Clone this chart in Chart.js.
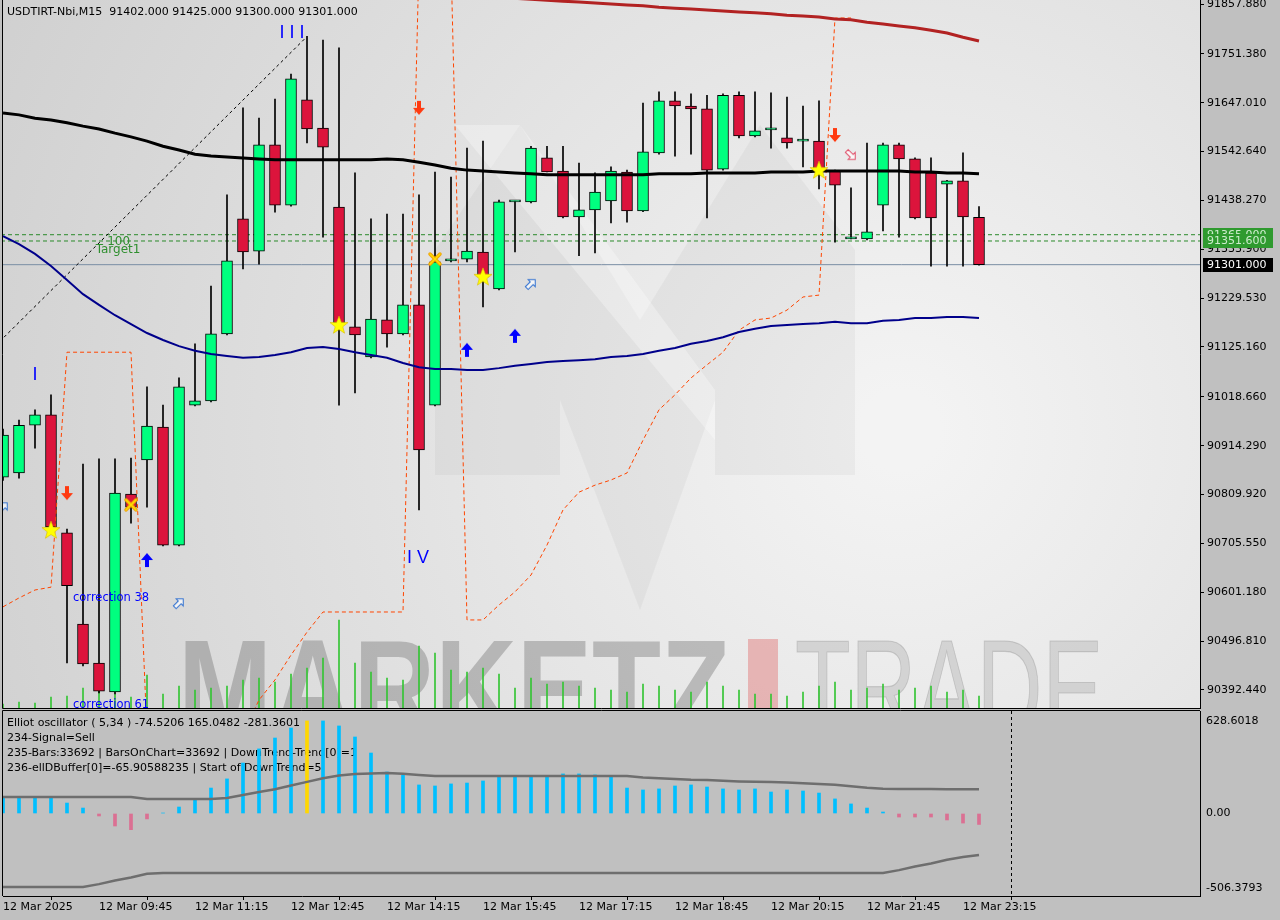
<!DOCTYPE html>
<html>
<head>
<meta charset="utf-8">
<script src="https://cdn.jsdelivr.net/npm/chart.js@4.4.1/dist/chart.umd.min.js"></script>
<style>
html, body { margin: 0; padding: 0; background: #c0c0c0; }
#wrap { position: relative; width: 1280px; height: 920px; overflow: hidden; }
#main { position: absolute; left: 0; top: 0; }
#osc { position: absolute; left: 0; top: 710px; }
</style>
</head>
<body>
<div id="wrap">
  <canvas id="main" width="1280" height="710"></canvas>
  <canvas id="osc" width="1280" height="210"></canvas>
</div>
<script>
// USDTIRT-Nbi M15, 12 Mar 2025
const times = ['08:15','08:30','08:45','09:00','09:15','09:30','09:45','10:00','10:15','10:30','10:45','11:00',
  '11:15','11:30','11:45','12:00','12:15','12:30','12:45','13:00','13:15','13:30','13:45','14:00',
  '14:15','14:30','14:45','15:00','15:15','15:30','15:45','16:00','16:15','16:30','16:45','17:00',
  '17:15','17:30','17:45','18:00','18:15','18:30','18:45','19:00','19:15','19:30','19:45','20:00',
  '20:15','20:30','20:45','21:00','21:15','21:30','21:45','22:00','22:15','22:30','22:45','23:00',
  '23:15','23:30'];

const open = [90847,90856,90958,90980,90728,90533,90450,90388,90811,90884,90954,90702,91001,91010,91153,91399,
  91330,91557,91428,91653,91593,91424,91168,91104,91183,91153,91215,91001,91309,91313,91328,91249,
  91435,91435,91529,91501,91403,91418,91437,91499,91416,91540,91651,91640,91634,91505,91663,91576,
  91589,91572,91565,91565,91501,91356,91356,91428,91557,91527,91497,91473,91480,91402];
const high = [90950,90969,90991,91023,90736,90875,90886,90886,90888,91040,91001,91059,91132,91255,91450,91636,
  91614,91655,91708,91789,91781,91764,91497,91399,91409,91409,91450,91499,91488,91550,91565,91439,
  91437,91554,91554,91554,91518,91497,91510,91503,91646,91670,91670,91666,91663,91666,91670,91670,
  91668,91659,91640,91651,91503,91465,91561,91561,91561,91529,91529,91481,91540,91425];
const low = [90840,90845,90909,90734,90450,90444,90386,90384,90749,90783,90700,90700,90999,91008,91151,91292,
  91302,91413,91426,91561,91360,91001,91027,91102,91125,91151,90777,90999,91307,91307,91211,91247,
  91328,91433,91499,91401,91320,91326,91390,91392,91414,91537,91533,91537,91401,91503,91572,91574,
  91550,91550,91510,91463,91349,91356,91354,91373,91360,91399,91298,91298,91298,91300];
const close = [90937,90958,90980,90741,90615,90448,90390,90813,90783,90956,90702,91040,91010,91153,91309,91328,
  91557,91428,91698,91591,91552,91176,91151,91185,91153,91215,90905,91307,91309,91330,91275,91435,
  91435,91550,91499,91403,91418,91456,91501,91416,91542,91651,91640,91634,91503,91663,91576,91587,
  91589,91561,91565,91501,91471,91356,91371,91557,91527,91401,91401,91480,91403,91301];
const volume = [4,6,5,11,12,20,26,14,11,33,14,22,18,20,22,28,30,26,34,40,50,88,45,36,30,28,62,55,38,36,40,34,
  20,30,24,26,22,20,18,16,24,22,18,16,26,22,18,14,14,12,16,22,26,18,20,24,18,20,22,16,18,12];

// moving averages
const maBlack = [91625,91621,91614,91610,91604,91597,91591,91582,91574,91565,91554,91546,91537,91533,91531,91529,
  91527,91525,91525,91525,91525,91525,91525,91525,91527,91525,91520,91514,91507,91503,91501,91499,
  91497,91495,91493,91493,91493,91493,91493,91493,91493,91495,91495,91495,91497,91497,91497,91497,
  91499,91499,91499,91501,91501,91501,91501,91501,91501,91499,91499,91497,91497,91495];
const maNavy = [91362,91345,91324,91298,91268,91238,91215,91193,91174,91155,91140,91127,91117,91110,91106,91102,
  91104,91108,91114,91123,91125,91121,91114,91108,91102,91091,91082,91078,91078,91076,91076,91080,
  91085,91089,91093,91095,91097,91099,91104,91106,91110,91117,91123,91132,91138,91146,91157,91164,
  91170,91172,91174,91176,91179,91176,91176,91181,91183,91187,91187,91189,91189,91187];
const maRed = [null,null,null,null,null,null,null,null,null,null,null,null,null,null,null,null,
  null,null,null,null,null,null,null,null,null,null,null,null,null,null,91875,91872,
  91870,91868,91866,91864,91862,91860,91858,91856,91854,91851,91849,91847,91845,91843,91841,91839,
  91837,91834,91832,91830,91826,91824,91819,91815,91811,91807,91802,91796,91787,91779];
const stopLine = [90570,90589,90606,90612,91114,91114,91114,91114,91114,90300,90300,90300,90300,90300,90300,90300,
  90371,90414,90467,90516,90559,90559,90559,90559,90559,90559,91950,91950,91950,90542,90542,90574,
  90602,90638,90702,90777,90815,90830,90841,90856,90926,90991,91023,91059,91087,91114,91161,91183,
  91187,91204,91232,91236,91828,91828,null,null,null,null,null,null,null,null];

// horizontal levels
const targetLevel = 91365.0;
const tpLevel = 91351.6;
const lastPrice = 91301.0;

// markers [bar, price]
const starMarks = [[3,90734],[21,91172],[30,91275],[51,91503]];
const crossMarks = [[8,90788],[27,91313]];
const sellArrows = [[4,90813],[26,91636],[52,91578]];
const buyArrows = [[9,90670],[29,91119],[32,91149]];
const buyHints = [[0,90783],[11,90578],[33,91260]];
const sellHints = [[53,91535]];
const waveLine = [[-1,91110],[18.9,91785]];
const notes = [
  {text:'I I I', bar:18.06, price:91796, color:'#0000ff', font:'18px "Liberation Sans"', align:'center'},
  {text:'I', bar:2, price:91065, color:'#0000ff', font:'18px "Liberation Sans"', align:'center'},
  {text:'I V', bar:25.94, price:90674, color:'#0000ff', font:'18px "Liberation Sans"', align:'center'},
  {text:'correction 38', bar:4.375, price:90589, color:'#0000ff', font:'11.5px "DejaVu Sans"', align:'left'},
  {text:'correction 61', bar:4.375, price:90360, color:'#0000ff', font:'11.5px "DejaVu Sans"', align:'left'},
  {text:'100', bar:7.94, price:91349, color:'#2f8f2f', font:'12px "DejaVu Sans"', align:'right'},
  {text:'Target1', bar:7.19, price:91332, color:'#2f8f2f', font:'12px "DejaVu Sans"', align:'center'}
];

const priceTicks = [91857.88,91751.38,91647.01,91542.64,91438.27,91333.90,91229.53,91125.16,91018.66,
  90914.29,90809.92,90705.55,90601.18,90496.81,90392.44];
const timeTicks = [0,6,12,18,24,30,36,42,48,54,60];

// Elliot oscillator
const oscHist = [112,112,112,112,71,37,-17,-85,-110,-37,3,44,99,173,235,343,439,513,581,629,629,595,520,411,
  282,262,194,187,201,207,221,248,255,255,248,269,269,262,248,173,160,167,187,194,180,167,160,167,
  146,160,153,139,99,65,37,10,-24,-24,-24,-44,-65,-74.5206];
const oscUpper = [112,112,112,112,112,112,112,112,112,99,99,99,99,99,105,125,146,165,190,215,240,258,268,272,
  275,270,262,255,255,255,255,255,255,255,255,255,255,255,255,255,245,240,235,230,228,222,218,215,
  214,210,205,200,195,185,175,168,167,166,166,165,165,165.0482];
const oscLower = [-500,-500,-500,-500,-500,-500,-480,-455,-435,-410,-405,-405,-405,-405,-405,-405,-405,-405,-405,-405,
  -405,-405,-405,-405,-405,-405,-405,-405,-405,-405,-405,-405,-405,-405,-405,-405,-405,-405,-405,-405,
  -405,-405,-405,-405,-405,-405,-405,-405,-405,-405,-405,-405,-405,-405,-405,-405,-385,-360,-340,-315,-295,-281.3601];
const signalBar = 19;
const futureBar = 63;
const oscTicks = [628.6018, 0, -506.3793];
const oscTickText = ['628.6018', '0.00', '-506.3793'];
const oscInfo = [
  'Elliot oscillator ( 5,34 ) -74.5206 165.0482 -281.3601',
  '234-Signal=Sell',
  '235-Bars:33692 | BarsOnChart=33692 | DownTrend-Trend[0]=1',
  '236-ellDBuffer[0]=-65.90588235 | Start of DownTrend=5'
];

Chart.defaults.font.family = '"DejaVu Sans", sans-serif';
Chart.defaults.font.size = 11;
Chart.defaults.color = '#000';

const xMax = 74.8125;
const idx = times.map((t, i) => i);
const pts = arr => arr.map(([b, p]) => ({x: b, y: p}));
const series = arr => idx.map(i => ({x: i, y: arr[i]}));

// small marker pictures
function mk(w, h, draw) {
  const c = document.createElement('canvas');
  c.width = w; c.height = h;
  draw(c.getContext('2d'));
  return c;
}
function solidArrow(g) {
  g.beginPath();
  g.moveTo(0,-7); g.lineTo(6,0); g.lineTo(2,0); g.lineTo(2,7); g.lineTo(-2,7); g.lineTo(-2,0); g.lineTo(-6,0);
  g.closePath();
}
function thinArrow(g) {
  g.beginPath();
  g.moveTo(0,-6); g.lineTo(5,-1); g.lineTo(2,-1); g.lineTo(2,6); g.lineTo(-2,6); g.lineTo(-2,-1); g.lineTo(-5,-1);
  g.closePath();
}
const starImg = mk(20, 20, g => {
  g.beginPath();
  for (let k = 0; k < 10; k++) {
    const r = k % 2 ? 4 : 9.5, a = -Math.PI / 2 + k * Math.PI / 5;
    g.lineTo(10 + r * Math.cos(a), 10.5 + r * Math.sin(a));
  }
  g.closePath();
  g.fillStyle = '#ffff00'; g.fill();
  g.strokeStyle = 'rgba(215,185,0,0.6)'; g.lineWidth = 1; g.stroke();
});
const crossImg = mk(16, 16, g => {
  g.lineCap = 'round';
  g.beginPath(); g.moveTo(3,3); g.lineTo(13,13); g.moveTo(13,3); g.lineTo(3,13);
  g.strokeStyle = '#f0a000'; g.lineWidth = 3.5; g.stroke();
  g.strokeStyle = '#ffe000'; g.lineWidth = 1.5; g.stroke();
});
const sellImg = mk(14, 16, g => { g.translate(7,8); g.rotate(Math.PI); solidArrow(g); g.fillStyle = '#ff3a10'; g.fill(); });
const buyImg = mk(14, 16, g => { g.translate(7,8); solidArrow(g); g.fillStyle = '#0000ff'; g.fill(); });
const hintUpImg = mk(16, 16, g => {
  g.translate(8,8); g.rotate(Math.PI / 4); thinArrow(g);
  g.fillStyle = 'rgba(255,255,255,0.7)'; g.fill(); g.strokeStyle = '#3070d0'; g.lineWidth = 1; g.stroke();
});
const hintDownImg = mk(16, 16, g => {
  g.translate(8,8); g.rotate(3 * Math.PI / 4); thinArrow(g);
  g.fillStyle = 'rgba(255,255,255,0.7)'; g.fill(); g.strokeStyle = '#e0506a'; g.lineWidth = 1; g.stroke();
});

function poly(ctx, p) {
  ctx.beginPath();
  p.forEach(([x, y], k) => k ? ctx.lineTo(x, y) : ctx.moveTo(x, y));
  ctx.closePath();
}

const mainOverlay = {
  id: 'mainOverlay',
  beforeDraw(chart) {
    const {ctx, chartArea: a} = chart;
    ctx.save();
    ctx.beginPath(); ctx.rect(a.left, a.top, a.width, a.height); ctx.clip();
    const g = ctx.createRadialGradient(900, 430, 40, 900, 430, 1000);
    g.addColorStop(0, '#f3f3f3'); g.addColorStop(1, '#d0d0d0');
    ctx.fillStyle = g; ctx.fillRect(a.left, a.top, a.width, a.height);
    // faint logo
    ctx.fillStyle = 'rgba(130,130,130,0.08)';
    poly(ctx, [[435,250],[520,125],[640,320],[760,125],[855,250],[855,475],[715,475],[715,400],[640,610],[560,400],[560,475],[435,475]]);
    ctx.fill();
    ctx.fillStyle = 'rgba(255,255,255,0.3)';
    poly(ctx, [[455,125],[520,125],[715,390],[715,440]]);
    ctx.fill();
    // watermark
    ctx.font = 'bold 140px "Liberation Sans"';
    ctx.textBaseline = 'alphabetic';
    let w = ctx.measureText('MARKETZ').width;
    ctx.save(); ctx.translate(178, 737); ctx.scale(552 / w, 1);
    ctx.fillStyle = 'rgba(120,120,120,0.42)'; ctx.fillText('MARKETZ', 0, 0);
    ctx.restore();
    ctx.fillStyle = 'rgba(225,105,105,0.42)';
    ctx.fillRect(748, 639, 30, 80);
    ctx.font = '140px "Liberation Sans"';
    w = ctx.measureText('TRADE').width;
    ctx.save(); ctx.translate(795, 737); ctx.scale(308 / w, 1);
    ctx.fillStyle = 'rgba(175,175,175,0.4)'; ctx.fillText('TRADE', 0, 0);
    ctx.strokeStyle = 'rgba(140,140,140,0.35)'; ctx.lineWidth = 1.2; ctx.strokeText('TRADE', 0, 0);
    ctx.restore();
    ctx.restore();
  },
  afterDatasetsDraw(chart) {
    const {ctx, chartArea: a, scales: {x, y}} = chart;
    ctx.save();
    ctx.beginPath(); ctx.rect(a.left, a.top, a.width, a.height); ctx.clip();
    ctx.textBaseline = 'middle';
    notes.forEach(n => {
      ctx.font = n.font; ctx.fillStyle = n.color; ctx.textAlign = n.align;
      ctx.fillText(n.text, x.getPixelForValue(n.bar), y.getPixelForValue(n.price));
    });
    ctx.restore();
  },
  afterDraw(chart) {
    const {ctx, chartArea: a, scales: {y}} = chart;
    ctx.save();
    ctx.strokeStyle = '#000'; ctx.lineWidth = 1;
    ctx.beginPath();
    ctx.moveTo(2.5, 0); ctx.lineTo(2.5, a.bottom + 0.5); ctx.lineTo(a.right, a.bottom + 0.5);
    ctx.stroke();
    ctx.font = '11px "DejaVu Sans"'; ctx.textBaseline = 'middle'; ctx.textAlign = 'left';
    ctx.fillStyle = '#000';
    ctx.fillText('USDTIRT-Nbi,M15  91402.000 91425.000 91300.000 91301.000', 7, 12);
    const box = (v, bg, fg) => {
      const py = y.getPixelForValue(v);
      ctx.fillStyle = bg; ctx.fillRect(1203, Math.round(py) - 7, 70, 14);
      ctx.fillStyle = fg; ctx.fillText(v.toFixed(3), 1207, py + 0.5);
    };
    box(targetLevel, '#2f9a2f', '#cdeccd');
    box(tpLevel, '#2f9a2f', '#cdeccd');
    box(lastPrice, '#000', '#fff');
    ctx.restore();
  }
};

const hLine = (v, color, dash) => ({
  type: 'line', yAxisID: 'y', data: [{x: -1, y: v}, {x: 80, y: v}], borderColor: color, borderWidth: 1,
  borderDash: dash, pointRadius: 0, order: 11
});
const markSet = (arr, img) => ({
  type: 'line', yAxisID: 'y', data: pts(arr), showLine: false, pointStyle: img, pointRadius: 8, order: 0
});
const maLine = (arr, color, width) => ({
  type: 'line', yAxisID: 'y', data: series(arr), borderColor: color, borderWidth: width, pointRadius: 0, order: 4
});

new Chart(document.getElementById('main'), {
  type: 'bar',
  data: {
    datasets: [
      {type: 'bar', yAxisID: 'vol', data: series(volume), backgroundColor: '#35c435',
        barThickness: 1, grouped: false, order: 12},
      hLine(targetLevel, '#2a8a2a', [4,3]),
      hLine(tpLevel, '#2a8a2a', [4,3]),
      hLine(lastPrice, '#7a8ea4', []),
      {type: 'bar', yAxisID: 'y', data: idx.map(i => ({x: i, y: [low[i], high[i]]})), backgroundColor: '#000',
        barThickness: 1, grouped: false, order: 10},
      {type: 'bar', yAxisID: 'y', data: idx.map(i => ({x: i, y: [open[i], close[i]]})),
        backgroundColor: idx.map(i => close[i] >= open[i] ? '#00ff7f' : '#dc143c'),
        borderColor: '#000', borderWidth: 1, borderSkipped: false, barThickness: 11,
        minBarLength: 2, grouped: false, order: 9},
      {type: 'line', yAxisID: 'y', data: series(stopLine), borderColor: '#ff4500', borderWidth: 1, borderDash: [4,3],
        pointRadius: 0, spanGaps: false, order: 5},
      maLine(maBlack, '#000', 3),
      maLine(maNavy, '#00008b', 2),
      maLine(maRed, '#b22222', 3),
      {type: 'line', yAxisID: 'y', data: pts(waveLine), borderColor: '#000', borderWidth: 1, borderDash: [3,3],
        pointRadius: 0, order: 4},
      markSet(starMarks, starImg),
      markSet(crossMarks, crossImg),
      markSet(sellArrows, sellImg),
      markSet(buyArrows, buyImg),
      markSet(buyHints, hintUpImg),
      markSet(sellHints, hintDownImg)
    ]
  },
  options: {
    responsive: false, animation: false, devicePixelRatio: 1, events: [],
    layout: {autoPadding: false, padding: {left: 3, right: 0, top: 0, bottom: 2}},
    plugins: {legend: {display: false}, tooltip: {enabled: false}},
    scales: {
      y: {
        axis: 'y', position: 'right', min: 90353.9, max: 91866.43,
        afterBuildTicks: s => { s.ticks = priceTicks.map(v => ({value: v})); },
        afterFit: s => { s.width = 80; s.paddingTop = 0; s.paddingBottom = 0; },
        ticks: {callback: v => Number(v).toFixed(3), padding: 3, autoSkip: false, color: '#000',
          font: {size: 11, family: '"DejaVu Sans"'}},
        grid: {drawOnChartArea: false, drawTicks: true, tickLength: 4, color: '#000'},
        border: {display: true, color: '#000'}
      },
      x: {type: 'linear', axis: 'x', min: 0, max: xMax, offset: false, display: false},
      vol: {axis: 'y', position: 'left', display: false, min: 0, max: 708}
    }
  },
  plugins: [mainOverlay]
});

const oscOverlay = {
  id: 'oscOverlay',
  beforeDatasetsDraw(chart) {
    const {ctx, chartArea: a, scales: {x}} = chart;
    ctx.save();
    ctx.fillStyle = '#000'; ctx.font = '11px "DejaVu Sans"'; ctx.textBaseline = 'middle'; ctx.textAlign = 'left';
    oscInfo.forEach((t, k) => ctx.fillText(t, 7, a.top + 12 + k * 15));
    const fx = Math.round(x.getPixelForValue(futureBar)) + 0.5;
    ctx.setLineDash([3,3]); ctx.strokeStyle = '#000'; ctx.lineWidth = 1;
    ctx.beginPath(); ctx.moveTo(fx, a.top); ctx.lineTo(fx, a.bottom); ctx.stroke();
    ctx.restore();
  },
  afterDraw(chart) {
    const {ctx, chartArea: a} = chart;
    ctx.save();
    ctx.strokeStyle = '#000'; ctx.lineWidth = 1;
    ctx.beginPath();
    ctx.moveTo(2.5, a.bottom); ctx.lineTo(2.5, a.top - 0.5); ctx.lineTo(a.right, a.top - 0.5);
    ctx.stroke();
    ctx.restore();
  }
};

new Chart(document.getElementById('osc'), {
  type: 'bar',
  data: {
    datasets: [
      {type: 'bar', data: series(oscHist), barThickness: 3, grouped: false, order: 3,
        backgroundColor: idx.map(i => i === signalBar ? '#ffd700' : (oscHist[i] >= 0 ? '#00bfff' : '#db7093'))},
      {type: 'line', data: series(oscUpper), borderColor: '#6e6e6e', borderWidth: 2.5, pointRadius: 0, order: 1},
      {type: 'line', data: series(oscLower), borderColor: '#6e6e6e', borderWidth: 2.5, pointRadius: 0, order: 1}
    ]
  },
  options: {
    responsive: false, animation: false, devicePixelRatio: 1, events: [],
    layout: {autoPadding: false, padding: {left: 3, right: 0, top: 1, bottom: 0}},
    plugins: {legend: {display: false}, tooltip: {enabled: false}},
    scales: {
      x: {
        type: 'linear', min: 0, max: xMax, offset: false, position: 'bottom',
        afterBuildTicks: s => { s.ticks = timeTicks.map(v => ({value: v})); },
        afterFit: s => { s.height = 24; s.paddingLeft = 0; s.paddingRight = 0; },
        ticks: {callback: v => v === 0 ? '12 Mar 2025' : '12 Mar ' + times[v], align: 'start',
          maxRotation: 0, autoSkip: false, padding: 1, color: '#000', font: {size: 11, family: '"DejaVu Sans"'}},
        grid: {drawOnChartArea: false, drawTicks: true, tickLength: 4, color: '#000'},
        border: {display: true, color: '#000'}
      },
      y: {
        position: 'right', min: -560.75, max: 696.6,
        afterBuildTicks: s => { s.ticks = oscTicks.map(v => ({value: v})); },
        afterFit: s => { s.width = 80; s.paddingTop = 0; s.paddingBottom = 0; },
        ticks: {callback: (v, i) => oscTickText[i], padding: 6, autoSkip: false, color: '#000',
          font: {size: 11, family: '"DejaVu Sans"'}},
        grid: {drawOnChartArea: false, drawTicks: false},
        border: {display: true, color: '#000'}
      }
    }
  },
  plugins: [oscOverlay]
});
</script>
</body>
</html>
